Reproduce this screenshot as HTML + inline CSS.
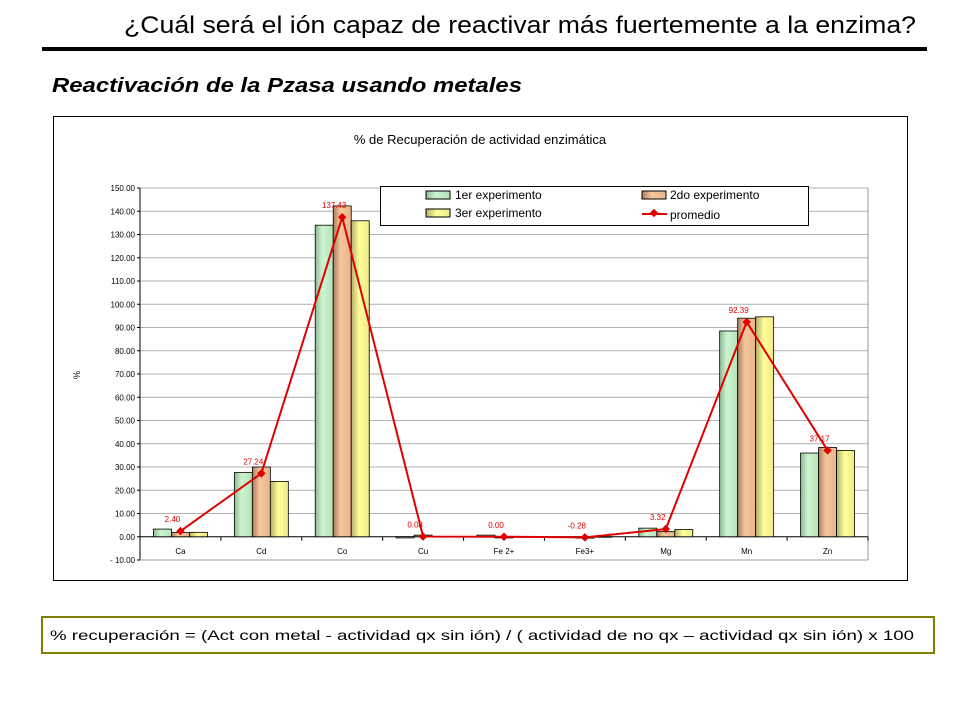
<!DOCTYPE html>
<html><head><meta charset="utf-8"><style>
html,body{margin:0;padding:0;background:#fff;width:960px;height:720px;overflow:hidden}
svg{display:block;font-family:"Liberation Sans",Arial,sans-serif}
</style></head><body>
<svg id="svg" width="960" height="720" viewBox="0 0 960 720">
<defs>
<linearGradient id="g1" x1="0" x2="1"><stop offset="0" stop-color="#8fb898"/><stop offset="0.4" stop-color="#ccf5cf"/><stop offset="1" stop-color="#b5e3bb"/></linearGradient>
<linearGradient id="g2" x1="0" x2="1"><stop offset="0" stop-color="#a97e5e"/><stop offset="0.4" stop-color="#f5c79c"/><stop offset="1" stop-color="#e8b48a"/></linearGradient>
<linearGradient id="g3" x1="0" x2="1"><stop offset="0" stop-color="#b3ae6a"/><stop offset="0.45" stop-color="#ffff99"/><stop offset="1" stop-color="#ece98a"/></linearGradient>
</defs>
<text x="916" y="33" text-anchor="end" font-size="24" textLength="792" lengthAdjust="spacingAndGlyphs">¿Cuál será el ión capaz de reactivar más fuertemente a la enzima?</text>
<rect x="42" y="47" width="885" height="4" fill="#000"/>
<text x="52" y="92" font-size="20" font-weight="bold" font-style="italic" textLength="470" lengthAdjust="spacingAndGlyphs">Reactivación de la Pzasa usando metales</text>
<rect x="53.5" y="116.5" width="854" height="464" fill="#fff" stroke="#000" stroke-width="1"/>
<text x="480" y="144" text-anchor="middle" font-size="13">% de Recuperación de actividad enzimática</text>
<g id="grid"></g>
<g id="bars"></g>
<g id="line"></g>
<text x="80" y="375" font-size="9" transform="rotate(-90 80 375)" text-anchor="middle">%</text>
<g>
<rect x="380.5" y="186.5" width="428" height="39" fill="#fff" stroke="#000"/>
<rect x="426" y="191" width="24" height="8" fill="url(#g1)" stroke="#000"/>
<text x="455" y="199" font-size="12">1er experimento</text>
<rect x="642" y="191" width="24" height="8" fill="url(#g2)" stroke="#000"/>
<text x="670" y="199" font-size="12">2do experimento</text>
<rect x="426" y="209" width="24" height="8" fill="url(#g3)" stroke="#000"/>
<text x="455" y="217" font-size="12">3er experimento</text>
<line x1="642" y1="214" x2="667" y2="214" stroke="#e00000" stroke-width="2"/>
<rect x="651" y="210" width="6" height="6" fill="#e00000" transform="rotate(45 654 213)"/>
<text x="670" y="219" font-size="12">promedio</text>
</g>
<rect x="42" y="617" width="892" height="36" fill="#fff" stroke="#808000" stroke-width="2"/>
<text x="50" y="640" font-size="14" textLength="864" lengthAdjust="spacingAndGlyphs">% recuperación = (Act con metal - actividad qx sin ión) / ( actividad de no qx – actividad qx sin ión) x 100</text>
</svg>
<script>
const categories=["Ca","Cd","Co","Cu","Fe 2+","Fe3+","Mg","Mn","Zn"];
const exp1=[3.3,27.6,134.0,-0.5,0.7,0.0,3.7,88.5,36.0];
const exp2=[1.8,30.0,142.3,0.7,-0.5,-0.6,2.2,94.0,38.4];
const exp3=[1.9,23.8,135.9,0.05,-0.2,-0.2,3.1,94.6,37.1];
const promedio=[2.40,27.24,137.43,0.08,0.00,-0.28,3.32,92.39,37.17];
const promLabels=["2.40","27.24","137.43","0.08","0.00","-0.28","3.32","92.39","37.17"];
const yTicks=[-10,0,10,20,30,40,50,60,70,80,90,100,110,120,130,140,150];
const NS='http://www.w3.org/2000/svg';
const X0=140,X1=868,Ytop=188,Ybot=560,YMIN=-10,YMAX=150;
const y=v=>Ybot-(v-YMIN)/(YMAX-YMIN)*(Ybot-Ytop);
const cw=(X1-X0)/categories.length;
const xc=i=>X0+cw*(i+0.5);
function mk(tag,attrs,parent,txt){const e=document.createElementNS(NS,tag);for(const k in attrs)e.setAttribute(k,attrs[k]);if(txt!=null)e.textContent=txt;parent.appendChild(e);return e;}
const grid=document.getElementById('grid'),bars=document.getElementById('bars'),line=document.getElementById('line');
yTicks.forEach(t=>{
  if(t!==0&&t!==YMIN){const l=mk('line',{x1:X0,x2:X1,y1:y(t),y2:y(t),stroke:'#b0b0b0','stroke-width':1},grid);
  
  }
  const tx=mk('text',{x:X0-5,y:y(t)+3,'font-size':8,'text-anchor':'end'},grid,t.toFixed(2).replace('-','- '));
  
  
  mk('line',{x1:X0-3,x2:X0,y1:y(t),y2:y(t),stroke:'#000'},grid);
});
mk('line',{x1:X0,x2:X0,y1:Ytop,y2:Ybot,stroke:'#000'},grid);
mk('line',{x1:X1,x2:X1,y1:Ytop,y2:Ybot,stroke:'#999'},grid);
mk('line',{x1:X0,x2:X1,y1:Ybot,y2:Ybot,stroke:'#999'},grid);
const zero=mk('line',{x1:X0,x2:X1,y1:y(0),y2:y(0),stroke:'#000'},grid);


categories.forEach((c,i)=>{
  mk('line',{x1:X0+cw*(i+1),x2:X0+cw*(i+1),y1:y(0),y2:y(0)+4,stroke:'#000'},grid);
  const t=mk('text',{x:xc(i),y:y(0)+17,'font-size':8,'text-anchor':'middle'},grid,c);
  
  
});
const bw=18;
[[exp1,'url(#g1)'],[exp2,'url(#g2)'],[exp3,'url(#g3)']].forEach(([arr,fill],s)=>{
  arr.forEach((v,i)=>{
    const x=xc(i)+(s-1.5)*bw;const y0=y(0),yv=y(v);
    const r=mk('rect',{x:x,y:Math.min(y0,yv),width:bw,height:Math.max(Math.abs(y0-yv),0.5),fill:fill,stroke:'#000','stroke-width':0.8},bars);
    
    
  });
});
const pts=promedio.map((v,i)=>xc(i)+','+y(v)).join(' ');
const pl=mk('polyline',{points:pts,fill:'none',stroke:'#e00000','stroke-width':2},line);


promedio.forEach((v,i)=>{
  const m=mk('rect',{x:xc(i)-3,y:y(v)-3,width:6,height:6,fill:'#e00000',transform:`rotate(45 ${xc(i)} ${y(v)})`},line);
  
  
  const t=mk('text',{x:xc(i)-8,y:y(v)-9,'font-size':8,fill:'#e00000','text-anchor':'middle'},line,promLabels[i]);
  
  
});
</script>
</body></html>
